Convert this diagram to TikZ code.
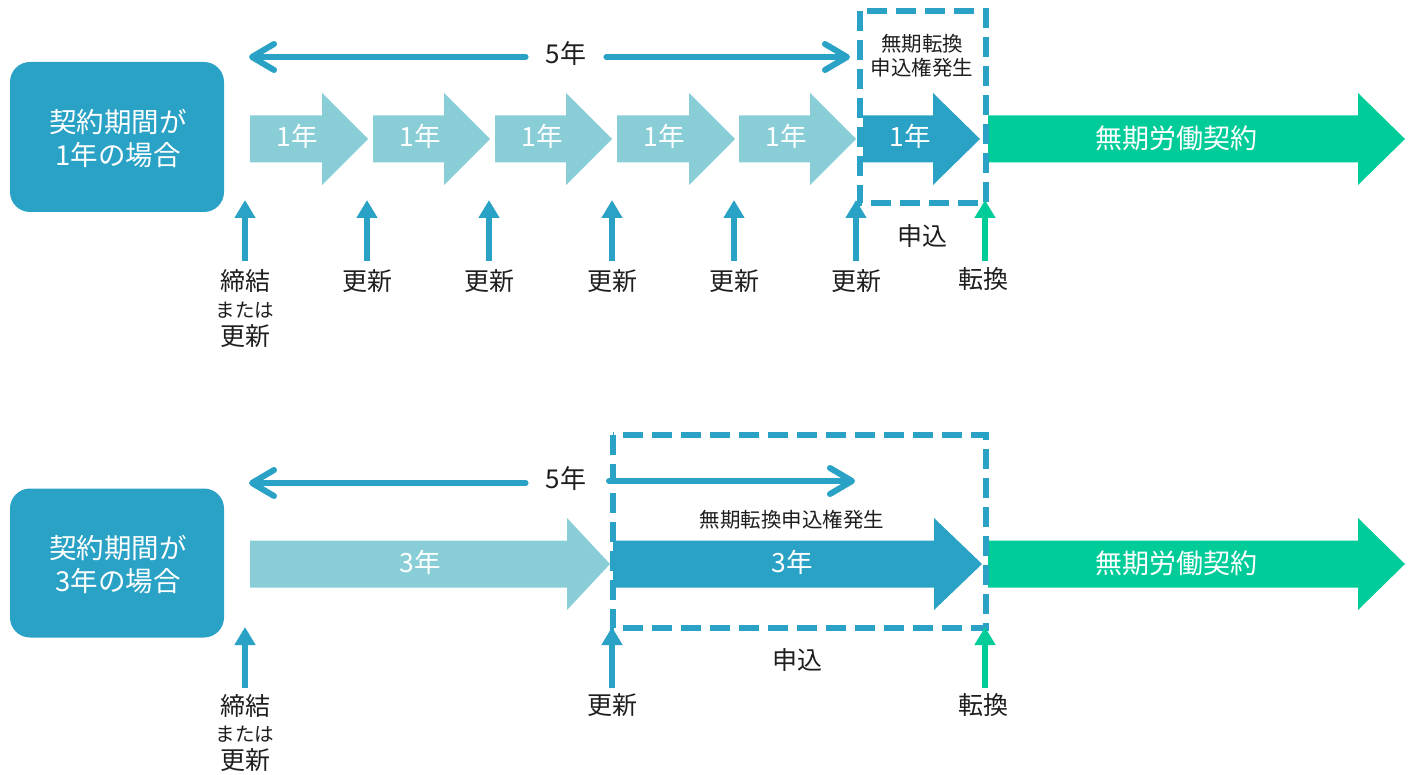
\documentclass[tikz,border=0pt]{standalone}
\usepackage{fontspec}
\setmainfont{Noto Sans CJK JP}
\usetikzlibrary{arrows.meta,calc}
\definecolor{cblue}{RGB}{41,162,198}
\definecolor{clight}{RGB}{137,206,215}
\definecolor{cgreen}{RGB}{0,204,153}
\definecolor{ctext}{RGB}{30,30,30}
% #1 start x, #2 head base x, #3 tip x, #4 centre y, #5 colour
\newcommand\blockarrow[5]{%
  \fill[#5] (#1,#4-23.5) -- (#2,#4-23.5) -- (#2,#4-46) -- (#3,#4)
    -- (#2,#4+46) -- (#2,#4+23.5) -- (#1,#4+23.5) -- cycle;}
\tikzset{
  boxstyle/.style={fill=cblue, rounded corners=20pt, text=white, align=center,
    font=\fontsize{27.5}{33}\selectfont},
  arrowtxt/.style={text=white, font=\fontsize{26.5}{30}\selectfont, inner sep=0pt},
  greentxt/.style={text=white, font=\fontsize{27}{30}\selectfont, inner sep=0pt},
  lbl/.style={text=ctext, font=\fontsize{25}{28}\selectfont, inner sep=0pt},
  smalllbl/.style={text=ctext, font=\fontsize{19.5}{22}\selectfont, inner sep=0pt},
  notelbl/.style={text=ctext, font=\fontsize{20.5}{24}\selectfont, inner sep=0pt, align=center},
  fivelbl/.style={text=ctext, font=\fontsize{26}{30}\selectfont, inner sep=0pt},
  uparrow/.style={draw=cblue, line width=6.5pt, -{Triangle[width=20pt,length=18pt]}},
  greenup/.style={uparrow, draw=cgreen},
  spanarrow/.style={draw=cblue, line width=6pt, line cap=round,
    -{Straight Barb[length=22pt,width=26pt,round]}},
  dashbox/.style={draw=cblue, line width=6.5pt, dash pattern=on 20pt off 9pt},
}
\begin{document}
\begin{tikzpicture}[x=1pt,y=-1pt]
\useasboundingbox (0,0) rectangle (1413,775);

% ================= TOP ROW =================
\node[boxstyle, minimum width=214pt, minimum height=150pt] (box1) at (117,137) {};
\node[boxstyle] (box1t) at (118,139) {契約期間が\\1年の場合};

\blockarrow{250}{322}{368}{139}{clight}
\blockarrow{373}{444}{490}{139}{clight}
\blockarrow{495}{566}{612}{139}{clight}
\blockarrow{617}{689}{735}{139}{clight}
\blockarrow{739}{810}{856}{139}{clight}
\blockarrow{863}{933}{980}{139}{cblue}
\blockarrow{988}{1358}{1405}{139}{cgreen}
\node[arrowtxt] (t1) at (297,136) {1年};
\node[arrowtxt] (t2) at (420,136) {1年};
\node[arrowtxt] (t3) at (542,136) {1年};
\node[arrowtxt] (t4) at (664,136) {1年};
\node[arrowtxt] (t5) at (786,136) {1年};
\node[arrowtxt] (t6) at (910,136) {1年};
\node[greentxt] (tg1) at (1176,138) {無期労働契約};

\draw[dashbox] (860,11) rectangle (986,203);
\node[notelbl] (n1) at (922,56) {無期転換\\申込権発生};

\node[fivelbl] (five1) at (566,54) {5年};
\coordinate (f1l) at (249,57);
\coordinate (f1r) at (850,57);
\draw[spanarrow] ($(five1.west)+(-20,3)$) -- (f1l);
\draw[spanarrow] ($(five1.east)+(20,3)$) -- (f1r);

% up arrows and labels
\node[lbl] (l1a) at (245,281) {締結};
\node[smalllbl] (l1b) at (245,310) {または};
\node[lbl] (l1c) at (245,336) {更新};
\node[lbl] (l2) at (367,281) {更新};
\node[lbl] (l3) at (489,281) {更新};
\node[lbl] (l4) at (612,281) {更新};
\node[lbl] (l5) at (734,281) {更新};
\node[lbl] (l6) at (856,281) {更新};
\node[lbl] (l7) at (983,279) {転換};
\node[lbl] (ap1) at (922,236) {申込};
\foreach \n/\x in {l1a/245,l2/367,l3/489,l4/612,l5/734,l6/856}{
  \coordinate (top\n) at (\x,200);
  \draw[uparrow] (\x,261) -- (top\n);
}
\coordinate (topl7) at (985,200);
\draw[greenup] (985,261) -- (topl7);

% ================= BOTTOM ROW =================
\node[boxstyle, minimum width=214pt, minimum height=149pt] (box2) at (117,563) {};
\node[boxstyle] (box2t) at (118,565) {契約期間が\\3年の場合};

\blockarrow{250}{567}{610}{564}{clight}
\blockarrow{613}{934}{982}{564}{cblue}
\blockarrow{988}{1358}{1405}{564}{cgreen}
\node[arrowtxt] (b1) at (420,562) {3年};
\node[arrowtxt] (b2) at (792,562) {3年};
\node[greentxt] (tg2) at (1176,563) {無期労働契約};

\draw[dashbox] (613,435) rectangle (986,628);
\node[notelbl] (n2) at (792,520) {無期転換申込権発生};

\node[fivelbl] (five2) at (566,479) {5年};
\coordinate (f2l) at (249,483);
\coordinate (f2r) at (855,481);
\draw[spanarrow] ($(five2.west)+(-20,4)$) -- (f2l);
\draw[spanarrow] (609,481) -- (f2r);

\node[lbl] (m1a) at (245,706) {締結};
\node[smalllbl] (m1b) at (245,734) {または};
\node[lbl] (m1c) at (245,760) {更新};
\node[lbl] (m2) at (612,705) {更新};
\node[lbl] (m3) at (983,705) {転換};
\node[lbl] (ap2) at (797,660) {申込};
\coordinate (topm1) at (245,627);
\coordinate (topm2) at (612,627);
\coordinate (topm3) at (985,627);
\draw[uparrow] (245,688) -- (topm1);
\draw[uparrow] (612,688) -- (topm2);
\draw[greenup] (985,688) -- (topm3);
\end{tikzpicture}
\end{document}
